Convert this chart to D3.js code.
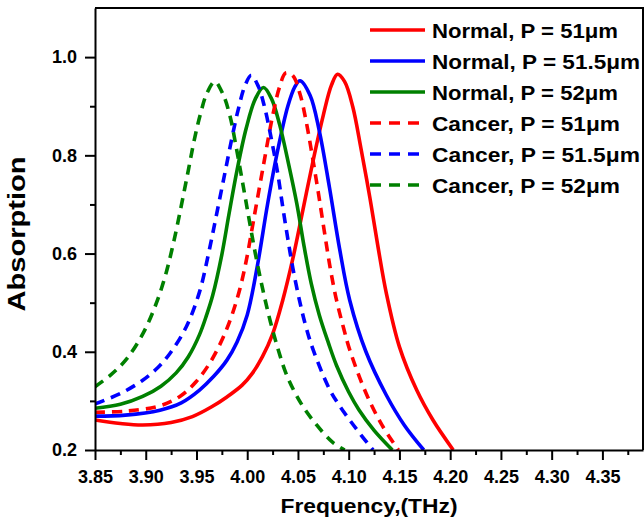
<!DOCTYPE html>
<html>
<head>
<meta charset="utf-8">
<script src="https://cdn.jsdelivr.net/npm/d3@7"></script>
<style>
  body { margin: 0; background: #fff; }
  svg text { font-family: Arial, "Liberation Sans", sans-serif; font-weight: bold; fill: #000; }
</style>
</head>
<body>
<div id="chart"></div>
<script>
// Absorption spectra: [frequency THz, absorption]
var normal51 = [[3.850,0.261],[3.875,0.254],[3.897,0.251],[3.925,0.256],[3.946,0.268],[3.965,0.288],
    [3.980,0.308],[3.995,0.332],[4.005,0.356],[4.015,0.390],[4.025,0.436],[4.035,0.505],[4.045,0.590],
    [4.055,0.690],[4.065,0.790],[4.075,0.882],[4.083,0.943],[4.089,0.965],[4.096,0.950],[4.104,0.899],
    [4.112,0.815],[4.121,0.712],[4.129,0.612],[4.137,0.520],[4.150,0.410],[4.167,0.322],[4.183,0.261],
    [4.203,0.200]];
var normal515 = [[3.850,0.269],[3.880,0.271],[3.914,0.281],[3.935,0.296],[3.953,0.322],[3.967,0.350],
    [3.980,0.383],[3.990,0.420],[4.000,0.475],[4.010,0.575],[4.020,0.700],[4.030,0.810],[4.040,0.900],
    [4.047,0.940],[4.052,0.952],[4.062,0.922],[4.071,0.850],[4.081,0.735],[4.091,0.610],[4.101,0.505],
    [4.117,0.400],[4.137,0.312],[4.155,0.250],[4.174,0.200]];
var normal52 = [[3.850,0.285],[3.875,0.293],[3.897,0.309],[3.915,0.330],[3.930,0.357],[3.942,0.390],
    [3.953,0.435],[3.960,0.475],[3.966,0.515],[3.975,0.598],[3.982,0.680],[3.990,0.770],[3.999,0.855],
    [4.008,0.915],[4.016,0.938],[4.024,0.915],[4.032,0.862],[4.041,0.780],[4.049,0.700],[4.056,0.615],
    [4.063,0.540],[4.071,0.475],[4.080,0.418],[4.088,0.372],[4.100,0.318],[4.110,0.282],[4.125,0.240],
    [4.143,0.200]];
var cancer51 = [[3.850,0.277],[3.880,0.279],[3.914,0.290],[3.935,0.311],[3.950,0.340],[3.964,0.380],
    [3.976,0.428],[3.985,0.475],[3.993,0.530],[3.999,0.585],[4.006,0.665],[4.016,0.780],[4.025,0.880],
    [4.032,0.940],[4.038,0.968],[4.045,0.962],[4.052,0.925],[4.058,0.870],[4.064,0.800],[4.070,0.725],
    [4.076,0.645],[4.082,0.568],[4.088,0.505],[4.095,0.448],[4.101,0.404],[4.117,0.316],[4.133,0.250],
    [4.149,0.200]];
var cancer515 = [[3.850,0.294],[3.875,0.315],[3.897,0.342],[3.912,0.368],[3.924,0.397],[3.940,0.451],
    [3.953,0.522],[3.962,0.601],[3.970,0.682],[3.978,0.764],[3.985,0.836],[3.991,0.892],[3.998,0.943],
    [4.004,0.963],[4.011,0.940],[4.017,0.899],[4.024,0.831],[4.030,0.764],[4.035,0.695],[4.040,0.630],
    [4.045,0.570],[4.052,0.500],[4.058,0.450],[4.065,0.404],[4.081,0.324],[4.091,0.290],[4.101,0.261],
    [4.112,0.231],[4.124,0.200]];
var cancer52 = [[3.850,0.329],[3.865,0.352],[3.881,0.385],[3.898,0.440],[3.911,0.502],[3.920,0.560],
    [3.928,0.628],[3.935,0.697],[3.942,0.770],[3.948,0.833],[3.954,0.885],[3.960,0.925],[3.968,0.950],
    [3.976,0.925],[3.983,0.880],[3.989,0.818],[3.996,0.738],[4.002,0.668],[4.008,0.600],[4.015,0.530],
    [4.022,0.468],[4.030,0.408],[4.039,0.352],[4.053,0.295],[4.068,0.252],[4.084,0.216],[4.096,0.200]];

var seriesNames = ["Normal, P = 51\u03bcm", "Normal, P = 51.5\u03bcm", "Normal, P = 52\u03bcm",
    "Cancer, P = 51\u03bcm", "Cancer, P = 51.5\u03bcm", "Cancer, P = 52\u03bcm"];
var seriesData = [normal51, normal515, normal52, cancer51, cancer515, cancer52];
var seriesColors = ["#ff0000", "#0000ff", "#008000", "#ff0000", "#0000ff", "#008000"];
var seriesDashed = [false, false, false, true, true, true];

var xMajorTicks = [3.85, 3.90, 3.95, 4.00, 4.05, 4.10, 4.15, 4.20, 4.25, 4.30, 4.35];
var xMinorTicks = [3.875, 3.925, 3.975, 4.025, 4.075, 4.125, 4.175, 4.225, 4.275, 4.325, 4.375];
var yMajorTicks = [0.2, 0.4, 0.6, 0.8, 1.0];
var yMinorTicks = [0.3, 0.5, 0.7, 0.9];

// Size of the page and of the plot frame
var width = 644, height = 529;
var margin = {top: 8, right: 1, bottom: 79, left: 95};

var svg = d3.select("#chart").append("svg")
    .attr("width", width)
    .attr("height", height);

var x = d3.scaleLinear().domain([3.85, 4.39]).range([margin.left, width - margin.right]);
var y = d3.scaleLinear().domain([0.2, 1.1]).range([height - margin.bottom, margin.top]);

svg.append("clipPath").attr("id", "plotClip")
    .append("rect")
    .attr("x", margin.left)
    .attr("y", margin.top)
    .attr("width", width - margin.right - margin.left)
    .attr("height", height - margin.bottom - margin.top);

// Curves
var line = d3.line()
    .x(function(d) { return x(d[0]); })
    .y(function(d) { return y(d[1]); })
    .curve(d3.curveCatmullRom.alpha(0.5));

var curves = svg.append("g").attr("clip-path", "url(#plotClip)");
for (let i = 0; i < seriesData.length; i++) {
    curves.append("path")
        .attr("d", line(seriesData[i]))
        .attr("fill", "none")
        .attr("stroke", seriesColors[i])
        .attr("stroke-width", 3.6)
        .attr("stroke-dasharray", seriesDashed[i] ? "10,7" : null);
}

// Frame (top and right edges)
svg.append("path")
    .attr("d", "M" + margin.left + "," + margin.top + "H" + x.range()[1] + "V" + y.range()[0])
    .attr("fill", "none")
    .attr("stroke", "#000")
    .attr("stroke-width", 2);

// Axes: major ticks with labels, minor ticks without
svg.append("g")
    .attr("transform", "translate(0," + y.range()[0] + ")")
    .call(d3.axisBottom(x).tickValues(xMajorTicks).tickFormat(d3.format(".2f"))
        .tickSizeInner(10).tickSizeOuter(0).tickPadding(10));
svg.append("g")
    .attr("transform", "translate(0," + y.range()[0] + ")")
    .call(d3.axisBottom(x).tickValues(xMinorTicks).tickFormat("").tickSizeInner(5).tickSizeOuter(0))
    .select(".domain").remove();

svg.append("g")
    .attr("transform", "translate(" + margin.left + ",0)")
    .call(d3.axisLeft(y).tickValues(yMajorTicks).tickFormat(d3.format(".1f"))
        .tickSizeInner(10).tickSizeOuter(0).tickPadding(8));
svg.append("g")
    .attr("transform", "translate(" + margin.left + ",0)")
    .call(d3.axisLeft(y).tickValues(yMinorTicks).tickFormat("").tickSizeInner(5).tickSizeOuter(0))
    .select(".domain").remove();

svg.selectAll(".domain, .tick line").attr("stroke", "#000").attr("stroke-width", 2);
svg.selectAll(".tick text").style("font-size", "18px").style("font-weight", "bold")
    .style("font-family", "Arial, 'Liberation Sans', sans-serif");

// Axis titles
svg.append("text")
    .attr("x", (x.range()[0] + x.range()[1]) / 2)
    .attr("y", 513)
    .attr("text-anchor", "middle")
    .attr("textLength", 177)
    .attr("lengthAdjust", "spacingAndGlyphs")
    .style("font-size", "21px")
    .text("Frequency,(THz)");

svg.append("text")
    .attr("transform", "translate(25,234) rotate(-90)")
    .attr("text-anchor", "middle")
    .attr("textLength", 155)
    .attr("lengthAdjust", "spacingAndGlyphs")
    .style("font-size", "23px")
    .text("Absorption");

// Legend
var legendLengths = [186, 208, 186, 188, 208, 188];
var legend = svg.append("g");
for (let i = 0; i < seriesNames.length; i++) {
    let rowY = 30 + i * 31;
    legend.append("line")
        .attr("x1", 370).attr("x2", seriesDashed[i] ? 421 : 425)
        .attr("y1", rowY).attr("y2", rowY)
        .attr("stroke", seriesColors[i])
        .attr("stroke-width", 3.6)
        .attr("stroke-dasharray", seriesDashed[i] ? "11,8" : null);
    legend.append("text")
        .attr("x", 432)
        .attr("y", rowY)
        .attr("dy", "0.36em")
        .attr("textLength", legendLengths[i])
        .attr("lengthAdjust", "spacingAndGlyphs")
        .style("font-size", "21px")
        .text(seriesNames[i]);
}
</script>
</body>
</html>
